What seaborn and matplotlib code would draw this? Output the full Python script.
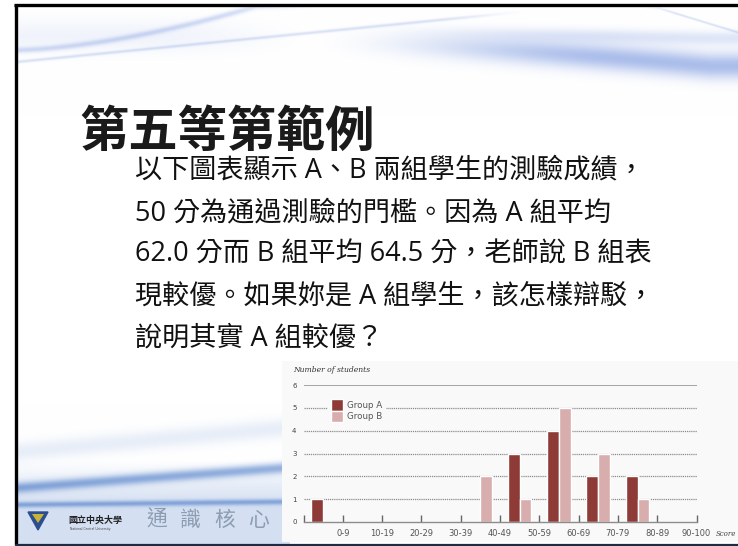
import numpy as np
import pandas as pd
import matplotlib
matplotlib.use("Agg")
import matplotlib.pyplot as plt
from matplotlib.patches import Polygon, Rectangle
import seaborn as sns

# ---- chart data ----
score_bins = ["0-9", "10-19", "20-29", "30-39", "40-49",
              "50-59", "60-69", "70-79", "80-89", "90-100"]
group_a = [1, 0, 0, 0, 0, 3, 4, 2, 2, 0]
group_b = [0, 0, 0, 0, 2, 1, 5, 3, 1, 0]
count_ticks = [0, 1, 2, 3, 4, 5, 6]
group_names = ["Group A", "Group B"]
group_colors = ["#8e3a36", "#d8adad"]

# ---- slide text ----
title = "第五等第範例"
body_lines = [
    "以下圖表顯示 A、B 兩組學生的測驗成績，",
    "50 分為通過測驗的門檻。因為 A 組平均",
    "62.0 分而 B 組平均 64.5 分，老師說 B 組表",
    "現較優。如果妳是 A 組學生，該怎樣辯駁，",
    "說明其實 A 組較優？",
]
school_name = "國立中央大學"
school_name_en = "National Central University"
footer_label = "通識核心"

sns.set_theme(style="white")
plt.rcParams["font.family"] = ["Noto Sans CJK TC", "DejaVu Sans"]
body_family = ["Open Sans", "Noto Sans CJK TC"]

W, H = 738, 546
fig = plt.figure(figsize=(W / 100, H / 100), dpi=100)
fig.patch.set_facecolor("white")

# background canvas in pixel coordinates
bg = fig.add_axes([0, 0, 1, 1])
bg.set_xlim(0, W)
bg.set_ylim(H, 0)
bg.axis("off")


def ribbon_image(x0, x1, y0, y1, ribbons, base=None):
    xs = np.linspace(x0, x1, int(x1 - x0))
    ys = np.linspace(y0, y1, int(y1 - y0))
    X, Y = np.meshgrid(xs, ys)
    inten = np.zeros_like(X) if base is None else base(X, Y)
    for yc, w, s, env in ribbons:
        inten += s * np.exp(-((Y - yc(X)) / w) ** 2) * env(X)
    return np.clip(inten, 0, 1)


def smooth(a, b):
    def f(X):
        t = np.clip((X - a) / (b - a), 0, 1)
        return t * t * (3 - 2 * t)
    return f


def fade(a, b):
    s = smooth(a, b)
    return lambda X: 1 - s(X)


def flat(X):
    return 1 + 0 * X


def tint(inten, color):
    rgb = np.array(matplotlib.colors.to_rgb(color))
    img = np.ones(inten.shape + (3,))
    return img * (1 - inten[..., None]) + rgb * inten[..., None]


# top swoosh
top_ribbons = [
    (lambda X: 42 + 24 * np.clip((X - 330) / 380, 0, 1) ** 1.4, 13, 0.58, smooth(300, 620)),
    (lambda X: 30 + 8 * np.clip((X - 330) / 380, 0, 1), 7, 0.22, smooth(350, 620)),
    (lambda X: 50 - 44 * np.clip((X - 16) / 240, 0, 1) ** 1.6, 3.0, 0.30, fade(220, 330)),
    (lambda X: 62 - 52 * np.clip((X - 16) / 520, 0, 1), 1.6, 0.25, fade(430, 540)),
    (lambda X: 36 + 0 * X, 16, 0.10, fade(150, 330)),
    (lambda X: 8 + 24 * np.clip((X - 660) / 78, 0, 1), 1.2, 0.25, smooth(640, 680)),
]
top = ribbon_image(16, W, 5, 115, top_ribbons)
bg.imshow(tint(top, "#6f8fdc"), extent=(16, W, 115, 5), aspect="auto", zorder=0)

# bottom-left bands
bottom_ribbons = [
    (lambda X: 488 - 20 * (X - 16) / 266, 5.5, 0.60, flat),
    (lambda X: 505 - 3 * (X - 16) / 266, 3, 0.50, flat),
    (lambda X: 452 - 24 * (X - 16) / 266, 10, 0.14, flat),
]
bottom = ribbon_image(16, 290, 405, 544, bottom_ribbons,
                      base=lambda X, Y: 0.26 * np.clip((Y - 460) / 45, 0, 1))
bg.imshow(tint(bottom, "#5b86cc"), extent=(16, 290, 544, 405), aspect="auto", zorder=0)

# slide frame
bg.plot([14, W], [5, 5], color="black", lw=2.4, zorder=5, solid_capstyle="butt")
bg.plot([16, 16], [4, 545], color="black", lw=2.4, zorder=5, solid_capstyle="butt")
bg.plot([16, W], [544.5, 544.5], color="#1d2b44", lw=1.6, zorder=5)

# title and body
bg.text(79, 132, title, fontsize=35.5, fontweight="bold", color="#1a1a1a",
        va="center", ha="left", zorder=6)
for i, line in enumerate(body_lines):
    bg.text(135, 171 + i * 42, line, fontsize=19.5, color="#111111",
            va="center", ha="left", zorder=6, family=body_family)

# footer: emblem and names
bg.add_patch(Polygon([[28, 512], [48, 512], [38, 530]], closed=True,
                     facecolor="#2b4f8e", edgecolor="#2b4f8e", zorder=6))
bg.add_patch(Polygon([[32, 514], [44, 514], [38, 523]], closed=True,
                     facecolor="#c9b23a", edgecolor="none", zorder=7))
bg.text(68, 520, school_name, fontsize=6.5, fontweight="bold", color="#222222",
        va="center", ha="left", zorder=6)
bg.text(70, 529, school_name_en, fontsize=2.2, color="#444444",
        va="center", ha="left", zorder=6, family="DejaVu Sans")
for k, ch in enumerate(footer_label):
    bg.text(146 + k * 34, 520, ch, fontsize=15, color="#8c9cb2",
            va="center", ha="left", zorder=6, fontweight="light")

# white panel holding the chart
bg.add_patch(Rectangle((282, 361), W - 282, 542 - 361, facecolor="#f9f9fa",
                       edgecolor="none", zorder=4))

# ---- chart ----
ax_left, ax_right = 303.5, 696.5
ax_top, ax_bottom = 385, 522
ax = fig.add_axes([ax_left / W, (H - ax_bottom) / H,
                   (ax_right - ax_left) / W, (ax_bottom - ax_top) / H])
ax.set_zorder(10)
ax.patch.set_alpha(0)

df = pd.DataFrame({
    "bin": score_bins * 2,
    "count": group_a + group_b,
    "group": [group_names[0]] * len(score_bins) + [group_names[1]] * len(score_bins),
})
sns.barplot(data=df, x="bin", y="count", hue="group", order=score_bins,
            hue_order=group_names, palette=group_colors, width=0.6,
            saturation=1, ax=ax, legend=True)

ax.set_xlim(-0.5, len(score_bins) - 0.5)
ax.set_ylim(0, max(count_ticks))
ax.set_xlabel("")
ax.set_ylabel("")

# gridlines
grid_c = "#8c8c8c"
for v in count_ticks[1:]:
    if v == max(count_ticks):
        ax.axhline(v, color=grid_c, lw=1.1, zorder=0)
    else:
        ax.axhline(v, color=grid_c, lw=0.9, ls=(0, (1, 0.7)), zorder=0)

for s in ["top", "right", "left"]:
    ax.spines[s].set_visible(False)
ax.spines["bottom"].set_color(grid_c)
ax.spines["bottom"].set_linewidth(1.0)

# score boundaries: tick marks at every bin edge, labels under them
edges = np.arange(-0.5, len(score_bins), 1.0)
ax.set_xticks(edges)
ax.set_xticklabels([""] + score_bins)
ax.tick_params(axis="x", direction="in", length=5, width=1.0, color="#666666",
               pad=5, labelsize=6, labelcolor="#555555", bottom=True)
ax.set_yticks(count_ticks)
ax.set_yticklabels([str(v) for v in count_ticks])
ax.tick_params(axis="y", length=0, pad=5, labelsize=5, labelcolor="#444444")
for lab in ax.get_xticklabels() + ax.get_yticklabels():
    lab.set_family("DejaVu Sans")

handles, labels = ax.get_legend_handles_labels()
leg = ax.legend(handles, labels, loc="upper left", bbox_to_anchor=(0.05, 0.95),
                frameon=True, facecolor="#f9f9fa", edgecolor="none", framealpha=1,
                fontsize=6.3, handlelength=1.4, handleheight=1.6, handletextpad=0.5,
                labelspacing=0.0, borderpad=0.35, fancybox=False)
for t in leg.get_texts():
    t.set_color("#555555")
    t.set_family("DejaVu Sans")

fig.text(293 / W, (H - 370) / H, "Number of students", fontsize=5.5,
         style="italic", family="DejaVu Serif", color="#333333",
         va="center", ha="left", zorder=12)
fig.text(716 / W, (H - 534) / H, "Score", fontsize=5.0, style="italic",
         family="DejaVu Serif", color="#444444", va="center", ha="left", zorder=12)

fig.savefig("out.png", dpi=100)
